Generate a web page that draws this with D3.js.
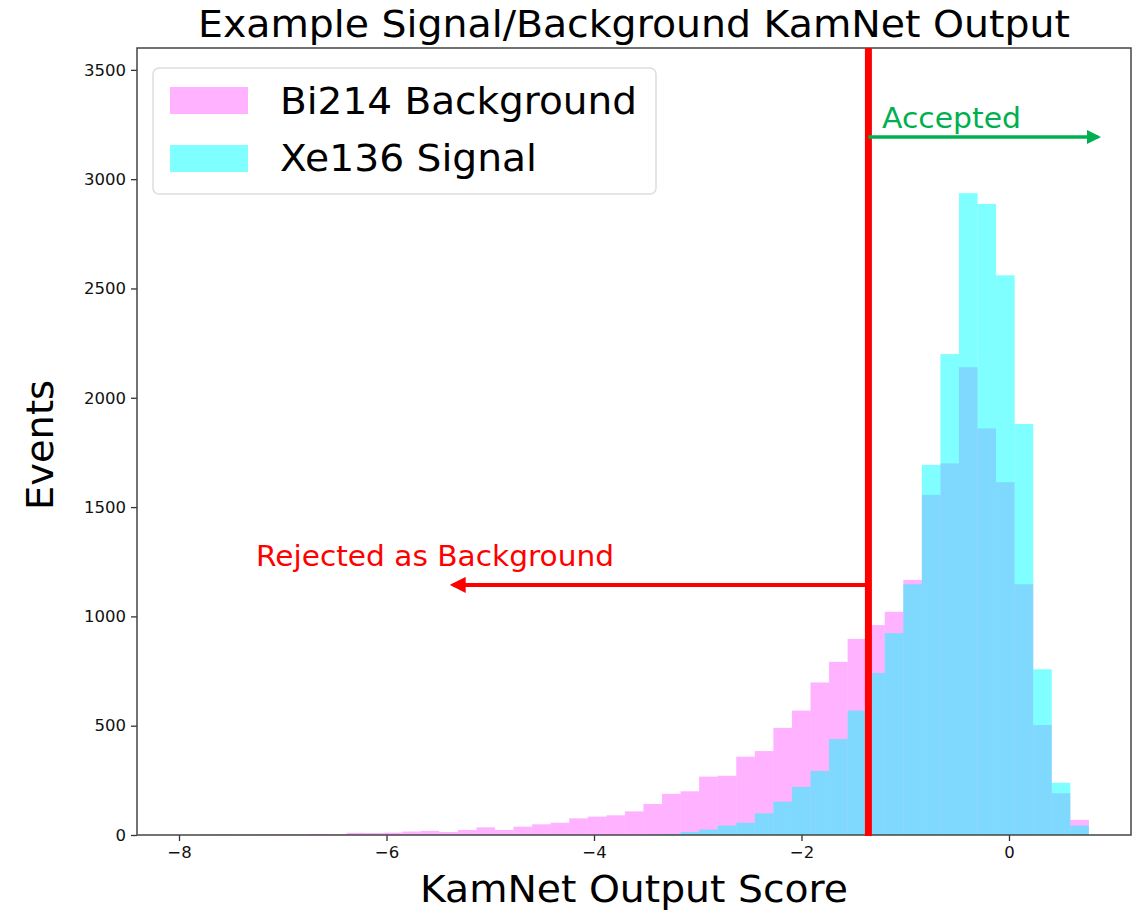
<!DOCTYPE html>
<html>
<head>
<meta charset="utf-8">
<script src="https://cdn.jsdelivr.net/npm/d3@7"></script>
<style>
  body { margin: 0; background: #fff; }
  #vis-hist { width: 1133px; height: 914px; }
  text { font-family: "DejaVu Sans", sans-serif; }
</style>
</head>
<body>
<div id="vis-hist"></div>
<script>
// histogram counts per bin (48 bins, same edges for both series)
const binStart = -7.817;
const binWidth = 0.1789;
const bi214 = [2, 3, 2, 3, 4, 3, 5, 4, 10, 9, 11, 16, 19, 14, 23, 35, 23, 38, 49, 56,
  76, 84, 90, 108, 142, 188, 200, 267, 271, 358, 384, 490, 569, 698, 792, 897,
  960, 1021, 1167, 1556, 1700, 2140, 1860, 1614, 1147, 503, 191, 69];
const xe136 = [0, 0, 0, 0, 0, 0, 0, 0, 0, 0, 0, 0, 0, 0, 0, 0, 0, 0, 0, 0,
  0, 0, 0, 0, 2, 5, 14, 25, 43, 56, 99, 152, 220, 293, 439, 569,
  741, 923, 1147, 1693, 2200, 2936, 2887, 2560, 1880, 758, 239, 43];
const xTicks = [-8, -6, -4, -2, 0];
const yTicks = [0, 500, 1000, 1500, 2000, 2500, 3000, 3500];
const cutValue = -1.355;

const container = d3.select("#vis-hist");
const width = 1133, height = 914;
const margins = { top: 48, right: 2, bottom: 79, left: 137 };

const svg = container.append("svg")
    .attr("width", width)
    .attr("height", height);

const x = d3.scaleLinear()
    .domain([-8.405, 1.176])
    .range([margins.left, width - margins.right]);

const y = d3.scaleLinear()
    .domain([0, 3600])
    .range([height - margins.bottom, margins.top]);

function toBins(counts) {
  return counts.map((c, i) => ({
    x0: binStart + i * binWidth,
    x1: binStart + (i + 1) * binWidth,
    n: c
  }));
}

// bars: background first, signal on top with transparency
const series = [
  { name: "Bi214 Background", data: bi214, color: "magenta", alpha: 0.3, len: 357 },
  { name: "Xe136 Signal", data: xe136, color: "cyan", alpha: 0.5, len: 257 }
];

series.forEach(s => {
  svg.append("g")
      .attr("fill", s.color)
      .attr("fill-opacity", s.alpha)
    .selectAll("rect")
    .data(toBins(s.data).filter(d => d.n > 0))
    .enter()
    .append("rect")
      .attr("x", d => x(d.x0))
      .attr("width", d => x(d.x1) - x(d.x0))
      .attr("y", d => y(d.n))
      .attr("height", d => y(0) - y(d.n));
});

// axes
const xAxis = d3.axisBottom(x).tickValues(xTicks).tickSize(6).tickPadding(5)
    .tickFormat(d => d3.format("d")(d).replace("-", "\u2212"));
const yAxis = d3.axisLeft(y).tickValues(yTicks).tickSize(6).tickPadding(5)
    .tickFormat(d3.format("d"));

const gx = svg.append("g")
    .attr("transform", `translate(0, ${y(0)})`)
    .call(xAxis);
const gy = svg.append("g")
    .attr("transform", `translate(${margins.left}, 0)`)
    .call(yAxis);

[gx, gy].forEach(g => {
  g.select(".domain").remove();
  g.selectAll(".tick line").attr("stroke", "#333").attr("stroke-width", 1.3);
  g.selectAll(".tick text")
      .attr("font-family", "DejaVu Sans")
      .attr("font-size", "16.5px")
      .attr("fill", "#111");
});

// frame
svg.append("rect")
    .attr("x", x.range()[0])
    .attr("y", y.range()[1])
    .attr("width", x.range()[1] - x.range()[0])
    .attr("height", y.range()[0] - y.range()[1])
    .attr("fill", "none")
    .attr("stroke", "#444")
    .attr("stroke-width", 1.5);

// legend
const legend = svg.append("g");
legend.append("rect")
    .attr("x", 153).attr("y", 68)
    .attr("width", 503).attr("height", 126)
    .attr("rx", 6)
    .attr("fill", "#fff").attr("fill-opacity", 0.85)
    .attr("stroke", "#ddd").attr("stroke-width", 1.5);

series.forEach((s, i) => {
  legend.append("rect")
      .attr("x", 170).attr("y", 87 + i * 58)
      .attr("width", 78).attr("height", 27)
      .attr("fill", s.color).attr("fill-opacity", s.alpha);
  legend.append("text")
      .attr("x", 280).attr("y", 114 + i * 57)
      .attr("font-size", "38px")
      .attr("fill", "#000")
      .attr("textLength", s.len).attr("lengthAdjust", "spacingAndGlyphs")
      .text(s.name);
});

// cut line and annotations
const red = "#ff0000", green = "#00b050";

svg.append("defs").selectAll("marker")
    .data([{ id: "head-red", c: red }, { id: "head-green", c: green }])
    .enter()
    .append("marker")
      .attr("id", d => d.id)
      .attr("viewBox", "0 0 10 10")
      .attr("refX", 8).attr("refY", 5)
      .attr("markerWidth", 4).attr("markerHeight", 4)
      .attr("orient", "auto")
      .attr("markerUnits", "strokeWidth")
    .append("path")
      .attr("d", "M0,0 L10,5 L0,10 z")
      .attr("fill", d => d.c);

svg.append("line")
    .attr("x1", x(cutValue)).attr("x2", x(-5.36))
    .attr("y1", y(1144)).attr("y2", y(1144))
    .attr("stroke", red).attr("stroke-width", 4)
    .attr("marker-end", "url(#head-red)");

svg.append("line")
    .attr("x1", x(cutValue)).attr("x2", x(cutValue))
    .attr("y1", y.range()[1]).attr("y2", y(0) + 1)
    .attr("stroke", red).attr("stroke-width", 7);

svg.append("line")
    .attr("x1", x(cutValue)).attr("x2", x(0.86))
    .attr("y1", y(3193)).attr("y2", y(3193))
    .attr("stroke", green).attr("stroke-width", 3.5)
    .attr("marker-end", "url(#head-green)");

svg.append("text")
    .attr("x", 882).attr("y", 128)
    .attr("font-family", "Open Sans, Noto Sans, sans-serif")
    .attr("font-size", "29px")
    .attr("fill", green)
    .attr("textLength", 139).attr("lengthAdjust", "spacingAndGlyphs")
    .text("Accepted");

svg.append("text")
    .attr("x", 256).attr("y", 566)
    .attr("font-family", "Open Sans, Noto Sans, sans-serif")
    .attr("font-size", "29px")
    .attr("fill", red)
    .attr("textLength", 358).attr("lengthAdjust", "spacingAndGlyphs")
    .text("Rejected as Background");

// titles
svg.append("text")
    .attr("x", 634).attr("y", 37)
    .attr("text-anchor", "middle")
    .attr("font-size", "38px")
    .attr("fill", "#000")
    .attr("textLength", 872).attr("lengthAdjust", "spacingAndGlyphs")
    .text("Example Signal/Background KamNet Output");

svg.append("text")
    .attr("x", 634).attr("y", 902)
    .attr("text-anchor", "middle")
    .attr("font-size", "38px")
    .attr("fill", "#000")
    .attr("textLength", 428).attr("lengthAdjust", "spacingAndGlyphs")
    .text("KamNet Output Score");

svg.append("text")
    .attr("transform", "translate(53, 445) rotate(-90)")
    .attr("text-anchor", "middle")
    .attr("font-size", "38px")
    .attr("fill", "#000")
    .attr("textLength", 130).attr("lengthAdjust", "spacingAndGlyphs")
    .text("Events");
</script>
</body>
</html>
